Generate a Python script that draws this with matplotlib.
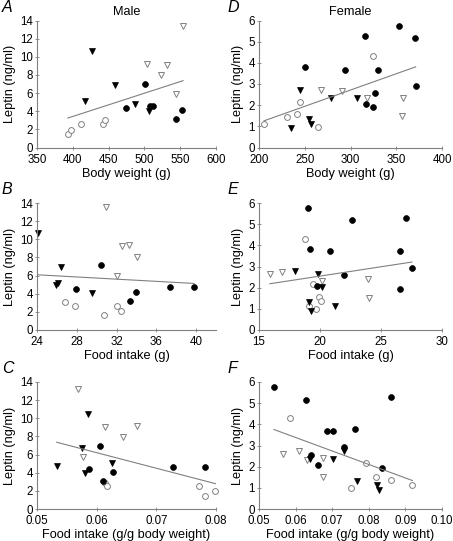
import numpy as np
import matplotlib.pyplot as plt

plt.rcParams['font.family'] = ['Liberation Sans', 'DejaVu Sans']

# marker groups: fc = filled circle, oc = open circle,
# ft = filled triangle, ot = open triangle

# A  male, leptin vs body weight
a_fc_x = [475, 500.7, 507.8, 512.5, 544.3, 553]
a_fc_y = [4.4, 7.0, 4.6, 4.6, 3.1, 4.1]
a_oc_x = [393.1, 397.8, 411.8, 442.2, 445.5]
a_oc_y = [1.47, 1.95, 2.57, 2.57, 2.98]
a_ft_x = [426.8, 416.5, 458.6, 486.7, 506.8]
a_ft_y = [10.6, 5.15, 6.84, 4.8, 3.97]
a_ot_x = [554, 504, 531, 523, 544]
a_ot_y = [13.4, 9.2, 9.1, 8.0, 5.9]

# B  male, leptin vs food intake
b_fc_x = [27.94, 30.46, 33.34, 33.94, 37.38, 39.8]
b_fc_y = [4.5, 7.15, 3.21, 4.24, 4.79, 4.79]
b_oc_x = [26.82, 27.81, 30.76, 32.05, 32.48]
b_oc_y = [3.13, 2.69, 1.62, 2.69, 2.10]
b_ft_x = [24.13, 26.38, 26.15, 25.95, 29.5]
b_ft_y = [10.69, 6.93, 5.23, 4.94, 4.13]
b_ot_x = [30.92, 32.58, 33.27, 34.04, 32.08]
b_ot_y = [13.56, 9.29, 9.40, 8.1, 5.97]

# C  male, leptin vs food intake per g body weight
c_fc_x = [0.06062, 0.05876, 0.06275, 0.07287, 0.07815, 0.06107]
c_fc_y = [6.89, 4.37, 4.07, 4.63, 4.63, 3.07]
c_oc_x = [0.06135, 0.06174, 0.07719, 0.07815, 0.07989]
c_oc_y = [2.89, 2.59, 2.52, 1.48, 1.96]
c_ft_x = [0.05854, 0.05753, 0.05331, 0.05798, 0.06264]
c_ft_y = [10.44, 6.70, 4.74, 4.0, 5.04]
c_ot_x = [0.0568, 0.06135, 0.06669, 0.06433, 0.05775]
c_ot_y = [13.26, 9.0, 9.1, 7.89, 5.78]

# D  female, leptin vs body weight
d_fc_x = [250.6, 294.3, 315.7, 329.8, 316.4, 324.6, 326.4, 352.7, 370, 371.2]
d_fc_y = [3.80, 3.67, 5.29, 3.67, 2.06, 1.91, 2.57, 5.75, 5.15, 2.91]
d_oc_x = [205.5, 230.3, 241.8, 244.7, 264.7, 324.6]
d_oc_y = [1.10, 1.42, 1.59, 2.17, 0.96, 4.30]
d_ft_x = [235.1, 244.4, 254.7, 256.9, 278.7, 306.8]
d_ft_y = [0.91, 2.72, 1.34, 1.13, 2.35, 2.33]
d_ot_x = [267.7, 290.2, 317.9, 357.1, 356]
d_ot_y = [2.72, 2.65, 2.33, 2.36, 1.50]

# E  female, leptin vs food intake
e_fc_x = [19.02, 19.16, 20.84, 22.61, 21.96, 19.78, 26.52, 27.09, 27.53, 26.55]
e_fc_y = [5.76, 3.82, 3.71, 5.18, 2.61, 2.08, 3.71, 5.29, 2.95, 1.94]
e_oc_x = [18.75, 19.43, 19.08, 19.70, 19.92, 20.11]
e_oc_y = [4.31, 2.18, 1.14, 1.0, 1.55, 1.37]
e_ft_x = [17.99, 19.84, 20.14, 19.08, 19.24, 21.2]
e_ft_y = [2.79, 2.64, 2.05, 1.34, 0.92, 1.15]
e_ot_x = [15.9, 16.85, 20.16, 23.91, 24.05]
e_ot_y = [2.64, 2.72, 2.32, 2.40, 1.53]

# F  female, leptin vs food intake per g body weight
f_fc_x = [0.05409, 0.06273, 0.06845, 0.07018, 0.07627, 0.07336, 0.06418, 0.06609, 0.08373, 0.086]
f_fc_y = [5.75, 5.15, 3.70, 3.70, 3.80, 2.91, 2.57, 2.06, 1.92, 5.29]
f_oc_x = [0.05845, 0.07918, 0.08191, 0.086, 0.07509, 0.09191]
f_oc_y = [4.30, 2.17, 1.52, 1.36, 0.98, 1.12]
f_ft_x = [0.06391, 0.07027, 0.07336, 0.07682, 0.08236, 0.08282]
f_ft_y = [2.35, 2.37, 2.72, 1.33, 1.13, 0.90]
f_ot_x = [0.05645, 0.06091, 0.063, 0.06736, 0.06754]
f_ot_y = [2.62, 2.72, 2.32, 2.40, 1.52]

male_yticks = [0, 2, 4, 6, 8, 10, 12, 14]
female_yticks = [0, 1, 2, 3, 4, 5, 6]

GRAY = '#808080'
W, H = 453, 541


def panel(fig, rect, fc, oc, ft, ot, xlim, xticks, xticklabels, yticks, xlabel, letter, title=None):
    ax = fig.add_axes(rect)
    ms = 4.2
    ax.plot(*oc, 'o', ls='none', ms=ms, mfc='white', mec=GRAY, mew=0.7, clip_on=False)
    ax.plot(*ot, 'v', ls='none', ms=ms + 0.4, mfc='white', mec=GRAY, mew=0.7, clip_on=False)
    ax.plot(*fc, 'o', ls='none', ms=ms, mfc='black', mec='black', mew=0.5, clip_on=False)
    ax.plot(*ft, 'v', ls='none', ms=ms + 0.4, mfc='black', mec='black', mew=0.5, clip_on=False)
    # regression over all points
    xs = np.concatenate([fc[0], oc[0], ft[0], ot[0]])
    ys = np.concatenate([fc[1], oc[1], ft[1], ot[1]])
    k, b = np.polyfit(xs, ys, 1)
    lx = np.array([xs.min(), xs.max()])
    ax.plot(lx, k * lx + b, color=GRAY, lw=0.8)
    ax.set_xlim(*xlim)
    ax.set_ylim(yticks[0], yticks[-1])
    ax.set_xticks(xticks)
    ax.set_xticklabels(xticklabels)
    ax.set_yticks(yticks)
    for s in ['top', 'right']:
        ax.spines[s].set_visible(False)
    for s in ['left', 'bottom']:
        ax.spines[s].set_color(GRAY)
        ax.spines[s].set_linewidth(0.8)
    ax.tick_params(direction='inout', length=3, width=0.6, color=GRAY,
                   labelsize=8.3)
    ax.tick_params(axis='x', pad=3)
    ax.tick_params(axis='y', pad=1.5)
    ax.set_xlabel(xlabel, fontsize=9.2, labelpad=1.5)
    ax.set_ylabel('Leptin (ng/ml)', fontsize=9.2, labelpad=3)
    x0 = rect[0]
    fig.text(2 / W if x0 < 0.5 else 228 / W, rect[1] + rect[3] + 6 / H, letter,
             fontsize=11.5, style='italic', ha='left', va='bottom')
    if title:
        ax.set_title(title, fontsize=9.2, pad=4)
    return ax


fig = plt.figure(figsize=(W / 100, H / 100), dpi=100)

lx0, rx0 = 37 / W, 259 / W
lw_, rw_ = 179 / W, 183 / W
h = 127 / H
rows = [(H - 147.5) / H, (H - 330) / H, (H - 509) / H]

panel(fig, [lx0, rows[0], lw_, h], (a_fc_x, a_fc_y), (a_oc_x, a_oc_y), (a_ft_x, a_ft_y), (a_ot_x, a_ot_y),
      (350, 600), [350, 400, 450, 500, 550, 600], ['350', '400', '450', '500', '550', '600'],
      male_yticks, 'Body weight (g)', 'A', 'Male')
panel(fig, [lx0, rows[1], lw_, h], (b_fc_x, b_fc_y), (b_oc_x, b_oc_y), (b_ft_x, b_ft_y), (b_ot_x, b_ot_y),
      (24, 42), [24, 28, 32, 36, 40], ['24', '28', '32', '36', '40'],
      male_yticks, 'Food intake (g)', 'B')
panel(fig, [lx0, rows[2], lw_, h], (c_fc_x, c_fc_y), (c_oc_x, c_oc_y), (c_ft_x, c_ft_y), (c_ot_x, c_ot_y),
      (0.05, 0.08), [0.05, 0.06, 0.07, 0.08], ['0.05', '0.06', '0.07', '0.08'],
      male_yticks, 'Food intake (g/g body weight)', 'C')
panel(fig, [rx0, rows[0], rw_, h], (d_fc_x, d_fc_y), (d_oc_x, d_oc_y), (d_ft_x, d_ft_y), (d_ot_x, d_ot_y),
      (200, 400), [200, 250, 300, 350, 400], ['200', '250', '300', '350', '400'],
      female_yticks, 'Body weight (g)', 'D', 'Female')
panel(fig, [rx0, rows[1], rw_, h], (e_fc_x, e_fc_y), (e_oc_x, e_oc_y), (e_ft_x, e_ft_y), (e_ot_x, e_ot_y),
      (15, 30), [15, 20, 25, 30], ['15', '20', '25', '30'],
      female_yticks, 'Food intake (g)', 'E')
panel(fig, [rx0, rows[2], rw_, h], (f_fc_x, f_fc_y), (f_oc_x, f_oc_y), (f_ft_x, f_ft_y), (f_ot_x, f_ot_y),
      (0.05, 0.10), [0.05, 0.06, 0.07, 0.08, 0.09, 0.10], ['0.05', '0.06', '0.07', '0.08', '0.09', '0.10'],
      female_yticks, 'Food intake (g/g body weight)', 'F')

fig.savefig('out.png', dpi=100)
